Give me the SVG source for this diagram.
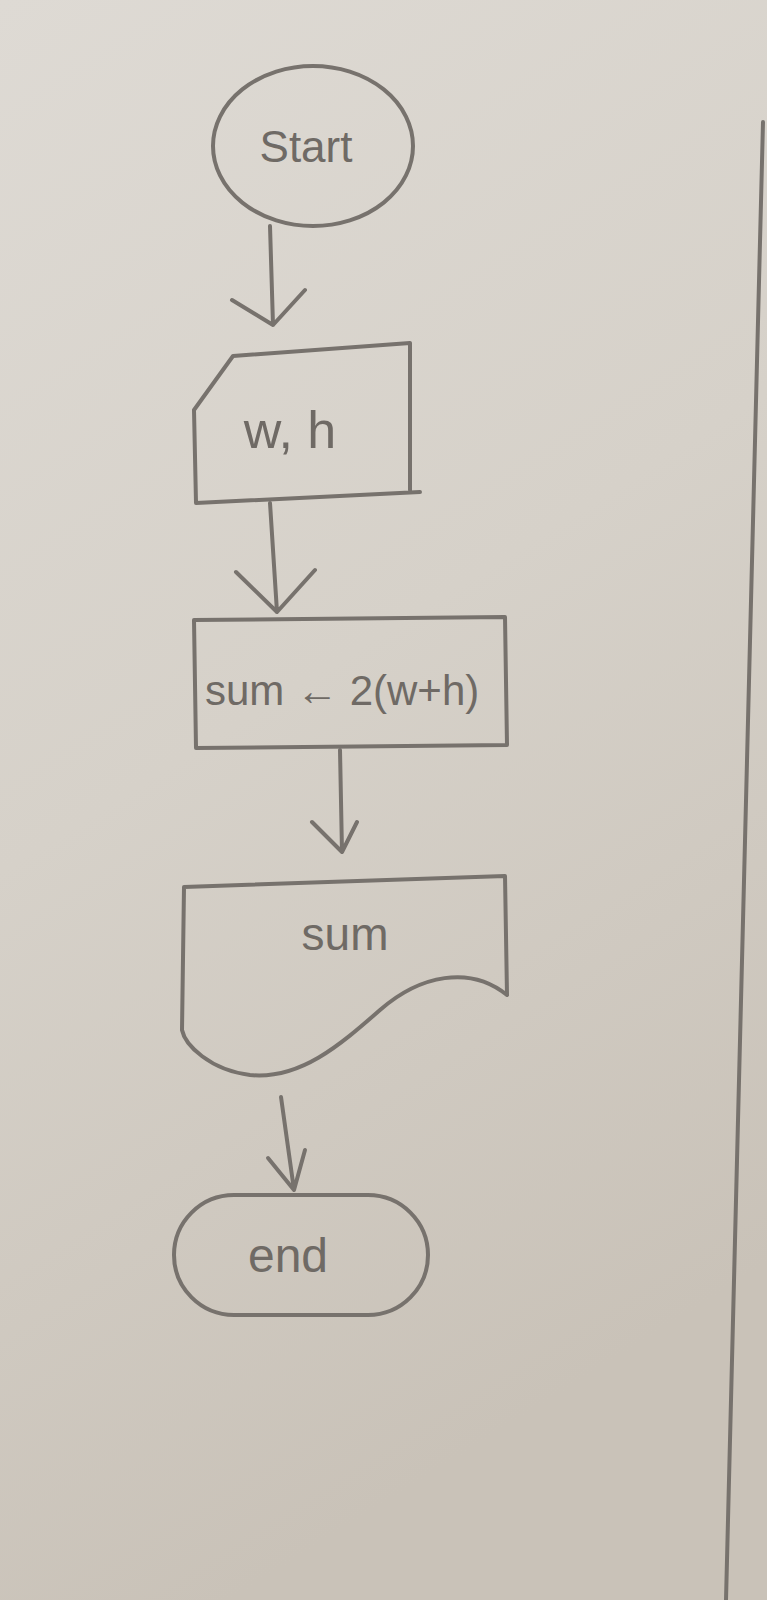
<svg xmlns="http://www.w3.org/2000/svg" width="767" height="1600" viewBox="0 0 767 1600">
<defs>
<linearGradient id="paper" x1="0" y1="0" x2="0.3" y2="1">
<stop offset="0" stop-color="#dedad4"/>
<stop offset="0.5" stop-color="#d6d1c9"/>
<stop offset="1" stop-color="#c9c2b8"/>
</linearGradient>
<style>
.ink{fill:none;stroke:#77726d;stroke-width:4;stroke-linecap:round;stroke-linejoin:round}
.t{font-family:"Liberation Sans","DejaVu Sans",sans-serif;fill:#6f6a65}
</style>
</defs>
<rect x="0" y="0" width="767" height="1600" fill="url(#paper)"/>
<path class="ink" d="M763,122 L726,1600" stroke-width="3"/>
<g id="start">
<ellipse class="ink" cx="313" cy="146" rx="100" ry="80"/>
<text class="t" x="306" y="162" font-size="44" text-anchor="middle">Start</text>
</g>
<g id="input">
<path class="ink" d="M233,356 L410,343 L410,490 M420,492 L196,503 L194,410 L233,356"/>
<text class="t" x="290" y="448" font-size="52" text-anchor="middle">w, h</text>
</g>
<g id="process">
<path class="ink" d="M194,620 L505,617 L507,745 L196,748 Z"/>
<text class="t" x="205" y="705" font-size="42">sum ← 2(w+h)</text>
</g>
<g id="output">
<path class="ink" d="M184,887 L505,876 L507,995 M507,995 C470,965 420,975 380,1010 C340,1045 300,1080 250,1075 C210,1070 185,1045 182,1030 L184,887"/>
<text class="t" x="345" y="950" font-size="46" text-anchor="middle">sum</text>
</g>
<g id="end">
<rect class="ink" x="174" y="1195" width="254" height="120" rx="60" ry="60"/>
<text class="t" x="288" y="1272" font-size="48" text-anchor="middle">end</text>
</g>
<g id="connectors">
<path class="ink" d="M270,226 L273,325 M232,300 L273,325 L305,290"/>
<path class="ink" d="M270,503 L277,612 M236,572 L277,612 L315,570"/>
<path class="ink" d="M340,750 L342,852 M312,822 L342,852 L357,822"/>
<path class="ink" d="M281,1097 L294,1190 M268,1158 L294,1190 L305,1150"/>
</g>
</svg>
